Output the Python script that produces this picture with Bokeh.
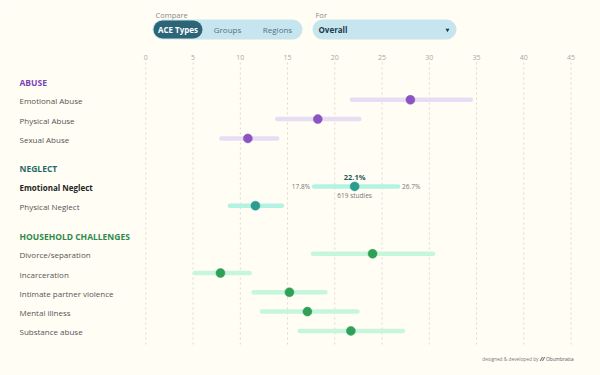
from bokeh.plotting import figure
from bokeh.models import Range1d, ColumnDataSource
from bokeh.core.properties import value, field
from bokeh.embed import file_html
from bokeh.resources import INLINE

# ---- data -------------------------------------------------------------
groups = ["ABUSE", "NEGLECT", "HOUSEHOLD CHALLENGES"]
group_items = [
    ["Emotional Abuse", "Physical Abuse", "Sexual Abuse"],
    ["Emotional Neglect", "Physical Neglect"],
    ["Divorce/separation", "Incarceration", "Intimate partner violence",
     "Mental illness", "Substance abuse"],
]
estimate = [
    [28.0, 18.2, 10.8],
    [22.1, 11.6],
    [24.0, 7.9, 15.2, 17.1, 21.7],
]
ci_low = [
    [21.8, 13.9, 8.0],
    [17.8, 8.9],
    [17.7, 5.2, 11.4, 12.3, 16.3],
]
ci_high = [
    [34.4, 22.6, 13.9],
    [26.7, 14.4],
    [30.4, 11.0, 19.0, 22.4, 27.2],
]
highlight = "Emotional Neglect"
highlight_studies = 619
ticks = [0, 5, 10, 15, 20, 25, 30, 35, 40, 45]
compare_options = ["ACE Types", "Groups", "Regions"]
for_option = "Overall"

# ---- styling ----------------------------------------------------------
BG = "#FFFDF4"
FONT = value("Open Sans")
header_colors = ["#7A45B8", "#1F6B68", "#2E8A4C"]
dot_colors = ["#8A55C2", "#2A9D8F", "#30A058"]
bar_colors = ["#E7DEF4", "#B3F3E2", "#C6F7DC"]

W, H = 600, 375
x0_px, px_per_unit = 145.3, 9.45

p = figure(width=W, height=H,
           x_range=Range1d(-x0_px / px_per_unit, (W - x0_px) / px_per_unit),
           y_range=Range1d(H, 0),
           min_border=0, toolbar_location=None, output_backend="svg")
p.extra_x_ranges = {"px": Range1d(0, W)}
p.axis.visible = False
p.grid.visible = False
p.outline_line_color = None
p.background_fill_color = BG
p.border_fill_color = BG

# ---- row layout -------------------------------------------------------
rows = dict(label=[], y=[], lx=[], est=[], lo=[], hi=[], dot=[], bar=[],
            weight=[], color=[])
headers = dict(label=[], y=[], lx=[], color=[])
y = 81.7
for gi, g in enumerate(groups):
    headers["label"].append(g)
    headers["y"].append(y)
    headers["lx"].append(19)
    headers["color"].append(header_colors[gi])
    y += 17.6
    for ii, name in enumerate(group_items[gi]):
        rows["label"].append(name)
        rows["y"].append(y)
        rows["lx"].append(19)
        rows["est"].append(estimate[gi][ii])
        rows["lo"].append(ci_low[gi][ii])
        rows["hi"].append(ci_high[gi][ii])
        rows["dot"].append(dot_colors[gi])
        rows["bar"].append(bar_colors[gi])
        rows["weight"].append("bold" if name == highlight else "normal")
        rows["color"].append("#262626" if name == highlight else "#555555")
        y += 19.3
    y += 11.1
rsrc = ColumnDataSource(rows)
hsrc = ColumnDataSource(headers)

# ---- grid and tick labels --------------------------------------------
p.segment(x0=ticks, x1=ticks, y0=[62] * len(ticks), y1=[346] * len(ticks),
          line_color="#D9D9D4", line_width=1, line_dash="2 3")
p.text(x=ticks, y=[57] * len(ticks), text=[str(t) for t in ticks],
       text_align="center", text_baseline="middle", text_font=FONT,
       text_font_size="7px", text_color="#A8A8A8")

# ---- intervals and estimates -----------------------------------------
p.segment(x0="lo", x1="hi", y0="y", y1="y", source=rsrc,
          line_color=field("bar"), line_width=4.5, line_cap="round")
p.scatter(x="est", y="y", source=rsrc, size=9, marker="circle",
          fill_color=field("dot"), line_color=field("dot"), line_width=0.5)

# ---- row and group labels --------------------------------------------
p.text(x="lx", y="y", text="label", source=rsrc, y_offset=1,
       x_range_name="px", text_align="left", text_baseline="middle",
       text_font=FONT, text_font_size="8px", text_color=field("color"),
       text_font_style=field("weight"))
p.text(x="lx", y="y", text="label", source=hsrc,
       x_range_name="px", text_align="left", text_baseline="middle",
       text_font=FONT, text_font_size="8.5px", text_font_style="bold",
       text_color=field("color"))

# ---- highlighted row annotation --------------------------------------
hi_idx = rows["label"].index(highlight)
hy = rows["y"][hi_idx]
he, hl, hh = rows["est"][hi_idx], rows["lo"][hi_idx], rows["hi"][hi_idx]
p.text(x=[he], y=[hy - 9.5], text=[f"{he:.1f}%"], text_align="center",
       text_baseline="middle", text_font=FONT, text_font_size="7.5px",
       text_font_style="bold", text_color="#1F5E5C")
p.text(x=[he], y=[hy + 9], text=[f"{highlight_studies} studies"],
       text_align="center", text_baseline="middle", text_font=FONT,
       text_font_size="6.5px", text_color="#777777")
p.text(x=[hl], y=[hy], text=[f"{hl:.1f}%"], x_offset=-4, text_align="right",
       text_baseline="middle", text_font=FONT, text_font_size="6.5px",
       text_color="#777777")
p.text(x=[hh], y=[hy], text=[f"{hh:.1f}%"], x_offset=4, text_align="left",
       text_baseline="middle", text_font=FONT, text_font_size="6.5px",
       text_color="#777777")

# ---- controls at the top ---------------------------------------------
ctl_bg = "#C7E5EE"
p.text(x=[155, 315], y=[14, 14], text=["Compare", "For"], x_range_name="px",
       text_align="left", text_baseline="middle", text_font=FONT,
       text_font_size="7.5px", text_color="#8A8A8A")
p.segment(x0=[162, 322], x1=[292, 446], y0=[29, 29], y1=[29, 29],
          x_range_name="px", line_color=ctl_bg, line_width=20, line_cap="round")
p.segment(x0=[162], x1=[193], y0=[29], y1=[29], x_range_name="px",
          line_color="#2C6578", line_width=18, line_cap="round")
p.text(x=[177.5], y=[29], text=[compare_options[0]], x_range_name="px",
       text_align="center", text_baseline="middle", text_font=FONT,
       text_font_size="8px", text_font_style="bold", text_color="#FFFFFF")
p.text(x=[227, 277], y=[29, 29], text=compare_options[1:], x_range_name="px",
       text_align="center", text_baseline="middle", text_font=FONT,
       text_font_size="8px", text_color="#4E7282")
p.text(x=[318], y=[29], text=[for_option], x_range_name="px",
       text_align="left", text_baseline="middle", text_font=FONT,
       text_font_size="8px", text_font_style="bold", text_color="#1D3B4A")
p.scatter(x=[447], y=[29.5], x_range_name="px", marker="inverted_triangle",
          size=4, fill_color="#1D3B4A", line_color=None)

# ---- credit line ------------------------------------------------------
p.text(x=[538], y=[358], text=["designed & developed by"], x_range_name="px",
       text_align="right", text_baseline="middle", text_font=FONT,
       text_font_size="4.8px", text_color="#7A7A7A")
p.text(x=[539.5], y=[358], text=["//"], x_range_name="px", text_align="left",
       text_baseline="middle", text_font=FONT, text_font_size="5.5px",
       text_font_style="bold italic", text_color="#333333")
p.text(x=[545.5], y=[358], text=["Obumbratta"], x_range_name="px",
       text_align="left", text_baseline="middle", text_font=FONT,
       text_font_size="4.8px", text_color="#555555")

open("out.html", "w").write(file_html(p, INLINE))
